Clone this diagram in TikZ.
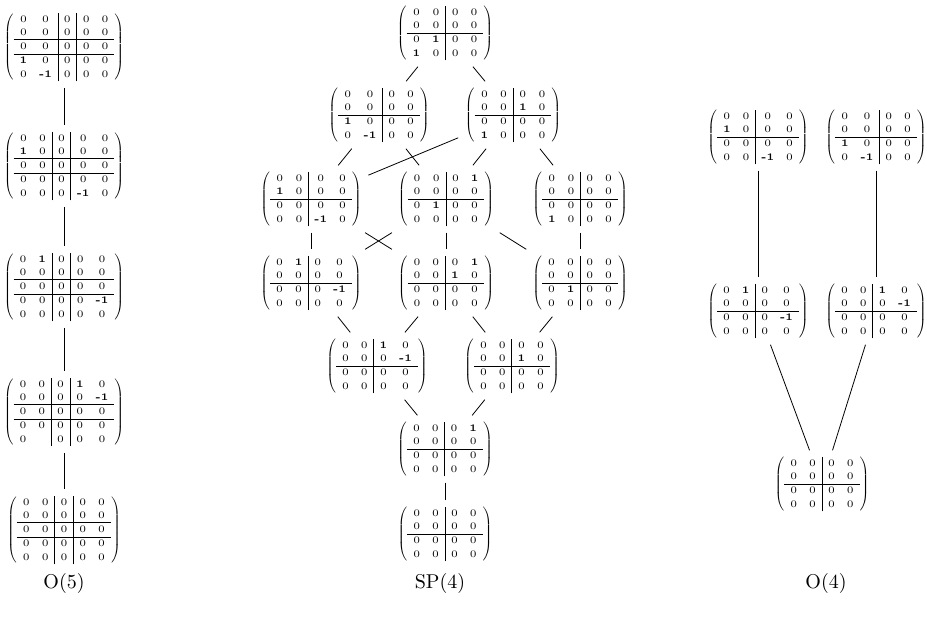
\documentclass[tikz,border=0pt]{standalone}
\usepackage{amsmath}
\usetikzlibrary{positioning}
\setlength{\arraycolsep}{3pt}
\renewcommand{\arraystretch}{1.12}
\newcommand{\pone}{\textbf{1}}
\newcommand{\mone}{\textbf{-1}}
\newcommand{\mfive}[5]{$\left(\begin{array}{cc|c|cc}#1\\#2\\\hline#3\\\hline#4\\#5\end{array}\right)$}
\newcommand{\mfour}[4]{$\left(\begin{array}{cc|cc}#1\\#2\\\hline#3\\#4\end{array}\right)$}

\begin{document}
\begin{tikzpicture}[x=0.5pt, y=-0.5pt, mat/.style = {inner sep=3pt, font=\tiny}]
		\useasboundingbox (0,0) rectangle (927,621);
		
		% O(5)
		\node[mat] (1) at (64,47) {\mfive{0&0&0&0&0}{0&0&0&0&0}{0&0&0&0&0}{\pone&0&0&0&0}{0&\mone&0&0&0}};
		\node[mat] (2) at (64,166) {\mfive{0&0&0&0&0}{\pone&0&0&0&0}{0&0&0&0&0}{0&0&0&0&0}{0&0&0&\mone&0}};
		\node[mat] (3) at (64,287) {\mfive{0&\pone&0&0&0}{0&0&0&0&0}{0&0&0&0&0}{0&0&0&0&\mone}{0&0&0&0&0}};
		\node[mat] (4) at (64,412) {\mfive{0&0&0&\pone&0}{0&0&0&0&\mone}{0&0&0&0&0}{0&0&0&0&0}{0&&0&0&0}};
		\node[mat] (5) at (64,530) {\mfive{0&0&0&0&0}{0&0&0&0&0}{0&0&0&0&0}{0&0&0&0&0}{0&0&0&0&0}};
		
		% SP(4)
		\node[mat] (6) at (445,33) {\mfour{0&0&0&0}{0&0&0&0}{0&\pone&0&0}{\pone&0&0&0}};
		\node[mat] (7) at (379,115) {\mfour{0&0&0&0}{0&0&0&0}{\pone&0&0&0}{0&\mone&0&0}};
		\node[mat] (8) at (513,115) {\mfour{0&0&0&0}{0&0&\pone&0}{0&0&0&0}{\pone&0&0&0}};
		\node[mat] (9) at (311,199) {\mfour{0&0&0&0}{\pone&0&0&0}{0&0&0&0}{0&0&\mone&0}};
		\node[mat] (10) at (446,199) {\mfour{0&0&0&\pone}{0&0&0&0}{0&\pone&0&0}{0&0&0&0}};
		\node[mat] (11) at (580,199) {\mfour{0&0&0&0}{0&0&0&0}{0&0&0&0}{\pone&0&0&0}};
		\node[mat] (12) at (311,283) {\mfour{0&\pone&0&0}{0&0&0&0}{0&0&0&\mone}{0&0&0&0}};
		\node[mat] (13) at (446,283) {\mfour{0&0&0&\pone}{0&0&\pone&0}{0&0&0&0}{0&0&0&0}};
		\node[mat] (14) at (580,283) {\mfour{0&0&0&0}{0&0&0&0}{0&\pone&0&0}{0&0&0&0}};
		\node[mat] (15) at (377,366) {\mfour{0&0&\pone&0}{0&0&0&\mone}{0&0&0&0}{0&0&0&0}};
		\node[mat] (16) at (512,366) {\mfour{0&0&0&0}{0&0&\pone&0}{0&0&0&0}{0&0&0&0}};
		\node[mat] (17) at (445,449) {\mfour{0&0&0&\pone}{0&0&0&0}{0&0&0&0}{0&0&0&0}};
		\node[mat] (18) at (445,534) {\mfour{0&0&0&0}{0&0&0&0}{0&0&0&0}{0&0&0&0}};
		
		% O(4)
		\node[mat] (19) at (758,137) {\mfour{0&0&0&0}{\pone&0&0&0}{0&0&0&0}{0&0&\mone&0}};
		\node[mat] (20) at (876,137) {\mfour{0&0&0&0}{0&0&0&0}{\pone&0&0&0}{0&\mone&0&0}};
		\node[mat] (21) at (758,311) {\mfour{0&\pone&0&0}{0&0&0&0}{0&0&0&\mone}{0&0&0&0}};
		\node[mat] (22) at (876,311) {\mfour{0&0&\pone&0}{0&0&0&\mone}{0&0&0&0}{0&0&0&0}};
		\node[mat] (23) at (822,484) {\mfour{0&0&0&0}{0&0&0&0}{0&0&0&0}{0&0&0&0}};
		
		\node (o5) at (64,583) {O(5)};
		\node (sp4) at (440,583) {SP(4)};
		\node (o4) at (826,583) {O(4)};
		
		
		\draw (1) -- (2);
		\draw (2) -- (3);
		\draw (3) -- (4);
		\draw (4) -- (5);
		
		\draw (6) -- (7);
		\draw (6) -- (8);
		\draw (7) -- (9);
		\draw (7) -- (10);
		\draw (8) -- (9);
		\draw (8) -- (10);
		\draw (8) -- (11);
		\draw (9) -- (12);
		\draw (9) -- (13);
		\draw (10) -- (12);
		\draw (10) -- (13);
		\draw (10) -- (14);
		\draw (11) -- (14);
		\draw (12) -- (15);
		\draw (13) -- (15);
		\draw (13) -- (16);
		\draw (14) -- (16);
		\draw (15) -- (17);
		\draw (16) -- (17);
		\draw (17) -- (18);
		
		\draw (19) -- (21);
		\draw (20) -- (22);
		\draw (21) -- (23);
		\draw (22) -- (23);
		
		
	\end{tikzpicture}
\end{document}
